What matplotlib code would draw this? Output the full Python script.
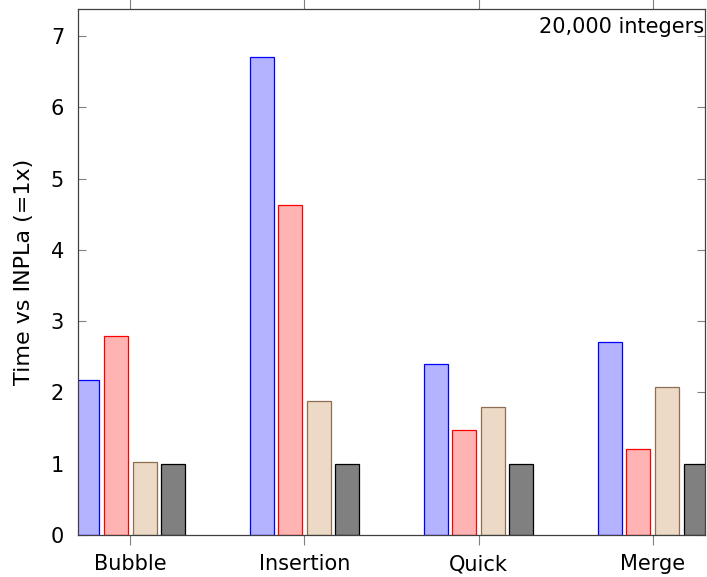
import matplotlib
matplotlib.use("Agg")
import matplotlib.pyplot as plt
import numpy as np

plt.rcParams['font.family'] = ['DejaVu Sans']

categories = ["Bubble", "Insertion", "Quick", "Merge"]
series_a = [2.17, 6.71, 2.40, 2.71]
series_b = [2.79, 4.63, 1.47, 1.21]
series_c = [1.03, 1.88, 1.80, 2.07]
series_d = [1.00, 1.00, 1.00, 1.00]
y_ticks = [0, 1, 2, 3, 4, 5, 6, 7]

fills = ["#b3b3ff", "#ffb3b3", "#ecd9c6", "#808080"]
edges = ["#0000ff", "#ff0000", "#8f6e50", "#000000"]

fig = plt.figure(figsize=(7.07, 5.77), dpi=100)
ax = fig.add_axes([78/707, 1-535/577, (705-78)/707, (535-9)/577])

x = np.arange(len(categories))
step = 0.164
width = 0.1375
for i, vals in enumerate([series_a, series_b, series_c, series_d]):
    ax.bar(x + (i - 1.5) * step, vals, width=width, color=fills[i],
           edgecolor=edges[i], linewidth=0.9, zorder=2)

ax.set_xlim(-0.3, 3.3)
ax.set_ylim(0, 7.38)
ax.set_xticks(x)
ax.set_xticklabels(categories)
ax.set_yticks(y_ticks)
ax.tick_params(axis='x', direction='out', top=True, length=7, width=0.8,
               color='#808080', labelsize=15, pad=7)
ax.tick_params(axis='y', direction='in', left=True, right=True, length=6,
               width=0.8, color='#808080', labelsize=15, pad=10)
for s in ax.spines.values():
    s.set_color('#404040')
    s.set_linewidth(0.9)

ax.set_ylabel("Time vs INPLa (=1x)", fontsize=16, labelpad=12)
ax.text(0.999, 0.985, "20,000 integers", transform=ax.transAxes,
        ha='right', va='top', fontsize=15)

fig.savefig("out.png", dpi=100)
